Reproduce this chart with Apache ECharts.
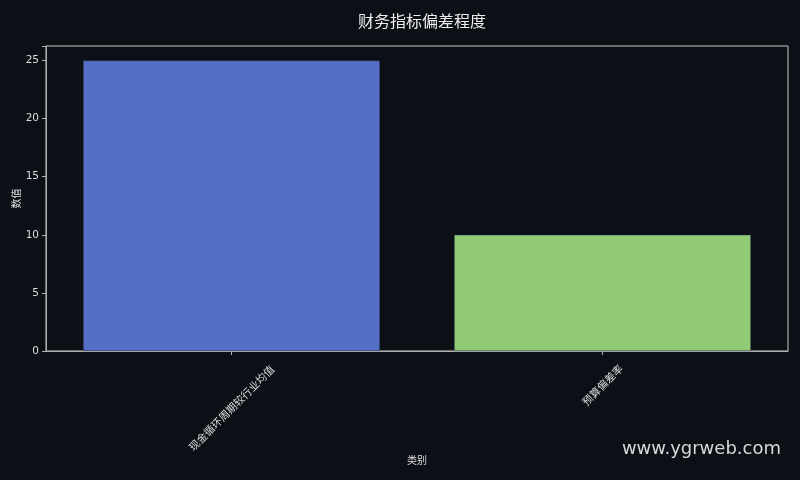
<!DOCTYPE html>
<html>
<head>
<meta charset="utf-8">
<script src="https://cdn.jsdelivr.net/npm/echarts@6/dist/echarts.min.js"></script>
<style>
  html, body { margin: 0; padding: 0; background: #0c0f16; }
  #chart { width: 800px; height: 480px; }
</style>
</head>
<body>
<div id="chart"></div>
<script>
var categories = ['现金循环周期较行业均值', '预算偏差率'];
var values = [25, 10];
var barColors = ['#5470c6', '#91cc75'];

var myChart = echarts.init(document.getElementById('chart'));
var textFont = '"Noto Sans CJK SC", "DejaVu Sans", sans-serif';

// labels are centred under their tick; each one gets its own margin so the tops line up
function labelAxis(idx, margin, main) {
    return {
        type: 'category',
        data: categories,
        position: 'bottom',
        name: main ? '类别' : '',
        nameLocation: 'middle',
        nameGap: 104,
        nameMoveOverlap: false,
        nameTextStyle: { color: '#dddddd', fontSize: 10, fontFamily: textFont },
        axisLine: { show: main, lineStyle: { color: '#b0b0b0' } },
        axisTick: { show: main, alignWithLabel: true, length: 4, lineStyle: { color: '#b0b0b0' } },
        axisLabel: {
            rotate: 45,
            align: 'center',
            verticalAlign: 'middle',
            margin: margin,
            color: '#dddddd',
            fontSize: 10.5,
            fontFamily: textFont,
            interval: 0,
            formatter: function (v, i) { return i === idx ? v : ''; }
        }
    };
}

option = {
    backgroundColor: '#0c0f16',
    title: {
        text: '财务指标偏差程度',
        left: 417,
        textAlign: 'center',
        top: 8,
        textStyle: { color: '#eeeeee', fontSize: 16, fontWeight: 'normal', fontFamily: textFont }
    },
    grid: {
        left: 46, right: 12, top: 46, bottom: 129,
        outerBoundsMode: 'none',
        show: true,
        borderColor: '#c8c8c8',
        borderWidth: 1
    },
    xAxis: [
        labelAxis(0, 57, true),
        labelAxis(1, 34, false)
    ],
    yAxis: {
        type: 'value',
        min: 0,
        max: 26.25,
        interval: 5,
        name: '数值',
        nameLocation: 'middle',
        nameGap: 25,
        nameMoveOverlap: false,
        nameTextStyle: { color: '#dddddd', fontSize: 10, fontFamily: textFont },
        axisLine: { show: true, lineStyle: { color: '#b0b0b0' } },
        axisTick: { show: true, length: 4, lineStyle: { color: '#b0b0b0' } },
        splitLine: { show: false },
        axisLabel: {
            color: '#dddddd', fontSize: 10.5, margin: 7, fontFamily: '"DejaVu Sans", sans-serif',
            formatter: function (v) { return v % 5 === 0 ? v : ''; }
        }
    },
    series: [
        {
            type: 'bar',
            xAxisIndex: 0,
            barWidth: '80%',
            data: values.map(function (v, i) {
                return { value: v, itemStyle: { color: barColors[i] } };
            }),
            itemStyle: { borderColor: '#2a3550', borderWidth: 0.5 }
        }
    ],
    graphic: [
        {
            type: 'text',
            right: 19,
            top: 440,
            style: { text: 'www.ygrweb.com', fill: '#d8d8d8', fontSize: 18, fontFamily: '"DejaVu Sans", sans-serif' }
        }
    ]
};

myChart.setOption(option);
window.onresize = function () {
    myChart.resize();
}
</script>
</body>
</html>
